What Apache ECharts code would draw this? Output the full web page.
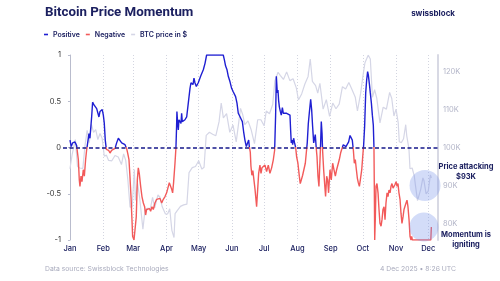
<!DOCTYPE html>
<html>
<head>
<meta charset="utf-8">
<script src="https://cdn.jsdelivr.net/npm/echarts@6/dist/echarts.min.js"></script>
<style>
html,body{margin:0;padding:0;background:#fff;}
#chart{width:500px;height:281px;}
</style>
</head>
<body>
<div id="chart"></div>
<script>
// ---- Data (day = days since 1 Jan 2025) ----
const monthDays = [0,31,59,90,120,151,181,212,243,273,304,334];
const monthLabels = ['Jan','Feb','Mar','Apr','May','Jun','Jul','Aug','Sep','Oct','Nov','Dec'];
const priceTicks = [80,90,100,110,120];

const momDay = [0,1.2,2.5,4.7,6.2,7.8,8.7,9.3,10.3,11.2,12.4,13.4,14.6,15.5,16.5,17.7,18.6,20.2,21.1,22.4,23.6,24.9,25.8,27.0,28.0,28.9,30.1,31.1,32.0,32.9,33.9,34.8,36.0,37.3,38.8,40.4,42.0,43.5,45.1,46.6,48.2,49.7,51.3,52.8,53.8,55.0,55.9,56.9,57.8,58.4,59.7,60.9,61.8,62.8,63.7,64.6,65.9,67.1,68.4,69.6,70.5,71.5,72.7,74.0,75.2,76.4,77.7,79.2,80.8,82.3,83.9,85.5,87.0,88.6,90.1,91.7,92.6,93.8,94.8,95.7,96.6,97.9,98.8,99.4,99.7,100.4,101.0,101.6,102.5,103.5,104.1,104.7,106.0,107.2,108.8,110.3,111.9,112.8,113.7,114.7,115.6,116.5,117.8,118.7,119.6,120.9,121.8,122.7,124.3,125.9,127.4,142.9,143.9,145.1,146.4,147.6,149.2,150.7,152.3,153.2,154.4,155.7,156.9,158.2,159.4,160.7,161.9,163.1,164.4,165.6,166.6,167.2,168.1,168.7,169.6,170.5,171.5,172.5,174.0,175.0,175.9,177.1,178.1,179.0,180.2,181.8,183.3,184.9,186.4,188.0,189.6,190.8,191.7,192.4,193.3,193.9,194.5,195.2,196.1,197.0,198.0,198.9,199.8,200.7,202.0,202.9,203.8,205.1,205.7,206.3,207.0,207.6,208.5,209.4,210.4,211.3,212.5,213.8,214.7,215.7,216.9,218.1,219.4,220.3,221.2,222.2,223.1,224.4,225.3,226.2,227.2,227.8,228.7,229.6,230.3,231.2,232.1,233.1,233.7,234.3,235.0,235.5,236.5,237.4,238.3,239.3,240.2,241.1,242.4,243.6,244.9,246.1,247.4,248.6,249.8,251.1,252.3,253.6,254.8,256.1,257.3,258.5,259.8,261.1,262.0,263.2,264.2,265.1,266.0,267.0,267.9,268.8,269.8,270.7,272.0,272.9,273.8,274.7,275.7,276.6,277.5,278.2,279.1,280.0,281.0,281.9,282.8,283.4,283.7,284.1,284.7,285.3,286.2,287.2,288.1,289.0,290.0,290.9,291.8,292.8,293.7,294.6,295.6,296.5,297.4,298.4,299.3,300.2,301.2,302.1,303.0,304.0,304.9,305.8,306.7,307.7,308.6,309.5,310.5,311.4,312.3,313.3,314.2,315.1,316.1,317.0,317.9,318.6,319.2,336.4,336.9];
const momentum = [0.08,0.01,0.05,0.06,0.02,-0.13,-0.35,-0.42,-0.31,-0.37,-0.24,-0.31,-0.13,-0.03,0.05,0.15,0.10,0.33,0.49,0.46,0.46,0.42,0.41,0.33,0.39,0.37,0.41,0.35,0.26,0.08,-0.02,-0.04,-0.03,-0.06,-0.03,-0.04,-0.01,0.05,0.10,0.08,0.05,0.06,0.03,-0.01,-0.06,-0.13,-0.31,-0.53,-0.78,-0.96,-1.0,-0.98,-0.75,-0.35,-0.22,-0.28,-0.42,-0.53,-0.60,-0.64,-0.73,-0.67,-0.69,-0.66,-0.69,-0.64,-0.67,-0.60,-0.56,-0.54,-0.55,-0.60,-0.56,-0.53,-0.49,-0.42,-0.38,-0.40,-0.45,-0.49,-0.38,-0.17,0.0,0.23,0.39,0.26,0.19,0.30,0.28,0.26,0.37,0.28,0.28,0.30,0.33,0.48,0.64,0.70,0.71,0.68,0.75,0.70,0.66,0.68,0.70,0.71,0.77,0.79,0.84,0.91,1.0,1.0,0.95,0.88,0.84,0.77,0.71,0.64,0.60,0.62,0.55,0.48,0.37,0.34,0.35,0.28,0.17,0.08,0.01,0.02,0.08,0.01,-0.05,-0.20,-0.30,-0.25,-0.35,-0.45,-0.64,-0.45,-0.28,-0.19,-0.28,-0.22,-0.24,-0.19,-0.26,-0.19,-0.28,-0.22,-0.13,-0.03,0.34,0.77,0.59,0.62,0.51,0.44,0.39,0.35,0.43,0.37,0.35,0.37,0.37,0.39,0.37,0.35,0.19,0.05,0.08,0.03,0.10,0.05,0.0,-0.10,-0.17,-0.31,-0.39,-0.35,-0.30,-0.28,-0.17,-0.06,0.05,0.26,0.37,0.52,0.41,0.23,0.05,0.03,0.14,-0.01,-0.10,-0.31,-0.42,-0.13,0.05,0.28,0.15,-0.03,-0.24,-0.39,-0.53,-0.31,-0.35,-0.49,-0.24,-0.35,-0.17,-0.24,-0.31,-0.24,-0.24,-0.13,-0.06,-0.01,0.03,0.05,0.01,0.03,0.06,0.13,0.12,0.08,-0.03,-0.17,-0.13,-0.24,-0.33,-0.38,-0.42,-0.35,-0.24,-0.10,0.03,0.23,0.59,0.73,0.82,0.78,0.69,0.59,0.48,0.35,0.24,0.0,-0.39,-1.0,-0.75,-0.42,-0.39,-0.49,-0.67,-0.82,-0.85,-0.78,-0.67,-0.64,-0.78,-0.60,-0.49,-0.53,-0.46,-0.49,-0.42,-0.39,-0.44,-0.46,-0.40,-0.37,-0.42,-0.39,-0.49,-0.56,-0.71,-0.82,-0.75,-0.67,-0.67,-0.60,-0.57,-0.64,-0.78,-0.96,-1.0,-0.96,-1.0,-1.0,-0.86];

const btcDates = ['01-01','01-03','01-06','01-08','01-10','01-13','01-15','01-17','01-19','01-21','01-23','01-25','01-27','01-29','01-31','02-02','02-04','02-06','02-09','02-12','02-15','02-18','02-20','02-22','02-24','02-26','02-28','03-02','03-03','03-05','03-07','03-10','03-12','03-14','03-17','03-19','03-21','03-24','03-26','03-28','03-31','04-02','04-04','04-06','04-08','04-09','04-11','04-14','04-17','04-20','04-22','04-25','04-28','05-01','05-04','05-06','05-08','05-11','05-14','05-17','05-20','05-22','05-24','05-27','05-30','06-02','06-05','06-09','06-11','06-13','06-16','06-19','06-22','06-25','06-28','07-01','07-03','07-06','07-09','07-11','07-14','07-16','07-19','07-22','07-25','07-28','07-31','08-02','08-05','08-08','08-11','08-13','08-15','08-18','08-20','08-22','08-25','08-28','08-31','09-03','09-06','09-09','09-12','09-15','09-18','09-21','09-24','09-26','09-29','10-01','10-03','10-06','10-08','10-10','10-12','10-14','10-17','10-20','10-23','10-26','10-28','10-30','11-01','11-03','11-04','11-06','11-08','11-10','11-11','11-13','11-14','11-16','11-18','11-19','11-21','11-22','11-24','11-26','11-27','11-29','12-01','12-03','12-04'];
const btcPrice = [94.4,98.1,102.1,95.0,94.6,94.5,100.5,104.5,101.3,106.1,104.0,104.7,102.1,103.7,102.4,97.7,98.0,96.6,96.5,97.9,97.5,95.5,98.3,96.6,91.4,84.3,84.4,94.2,86.1,90.6,86.7,78.5,83.7,84.0,84.0,86.9,84.1,87.5,86.9,84.4,82.5,82.5,83.9,78.2,76.3,82.6,83.4,84.5,84.9,85.1,93.4,94.7,95.0,96.5,94.3,94.8,103.2,104.0,103.5,103.1,106.8,111.7,107.8,108.9,104.0,105.9,101.5,110.3,108.7,106.0,107.0,104.6,101.0,107.3,107.3,105.7,109.6,108.9,111.3,117.5,119.8,119.0,117.9,119.9,117.6,118.1,115.7,112.5,114.1,116.7,118.7,123.3,117.4,116.3,114.3,116.9,110.1,112.6,108.2,111.7,110.2,111.4,116.0,115.4,117.1,115.2,113.2,109.6,114.3,118.6,122.3,124.3,123.3,113.2,115.2,113.0,106.5,110.6,110.1,114.5,112.9,108.3,110.1,106.5,101.5,101.3,102.3,106.0,103.0,99.7,94.4,94.6,92.5,90.2,86.0,85.5,89.0,92.0,91.3,87.8,88.5,92.8,92.0];

// ---- Build ----
function dayOf(md){
  const [m,d] = md.split('-').map(Number);
  return (Date.UTC(2025,m-1,d) - Date.UTC(2025,0,1)) / 86400000;
}
const momData = momDay.map((d,i)=>[d, momentum[i]]);
const btcData = btcDates.map((md,i)=>[dayOf(md), btcPrice[i]]);

const NAVY = '#1c2060';
const BLUE = '#1f1fd2';
const RED = '#f25a5a';
const GRAY = '#d5d6e6';

const chart = echarts.init(document.getElementById('chart'), null, {renderer:'canvas'});
const option = {
  animation:false,
  backgroundColor:'#fff',
  textStyle:{fontFamily:'Inter'},
  title:{
    text:'Bitcoin Price Momentum', left:45, top:6, padding:0,
    textStyle:{fontFamily:'Roboto', fontSize:13.3, fontWeight:'bold', color:NAVY}
  },
  legend:{
    left:44, top:31, padding:0, icon:'rect', itemWidth:4, itemHeight:1.6, itemGap:6,
    textStyle:{fontFamily:'Inter', fontSize:7, fontWeight:600, color:NAVY},
    data:[
      {name:'Positive', itemStyle:{color:BLUE}},
      {name:'Negative', itemStyle:{color:RED}},
      {name:'BTC price in $', itemStyle:{color:GRAY}}
    ]
  },
  grid:{left:63, right:62, top:55, bottom:41, containLabel:false},
  xAxis:{
    type:'value', min:-6.5, max:343.1,
    axisLine:{show:false},
    axisTick:{show:false, customValues:monthDays},
    splitLine:{show:true, lineStyle:{type:[1,2], color:'#d3d5e0', width:1}},
    axisLabel:{customValues:monthDays, formatter:v=>monthLabels[monthDays.indexOf(v)],
      color:NAVY, fontSize:7.5, fontWeight:500, margin:5, fontFamily:'Inter'}
  },
  yAxis:[
    {type:'value', min:-1, max:1, interval:0.5, position:'left',
      axisLine:{show:true, lineStyle:{color:'#b9bccd', width:1}},
      axisTick:{show:true, length:2, lineStyle:{color:'#b9bccd'}},
      axisLabel:{color:'#333', fontSize:7.5, margin:2, fontFamily:'Inter'},
      splitLine:{show:false}},
    {type:'value', min:75.66, max:124.34, position:'right',
      axisLine:{show:true, lineStyle:{color:'#d8d9e4', width:2}},
      axisTick:{show:false},
      axisLabel:{customValues:priceTicks, formatter:v=>v+'K', color:'#b3b5c8', fontSize:7.5, margin:5, fontFamily:'Inter'},
      splitLine:{show:false}}
  ],
  series:[
    {name:'BTC price in $', type:'line', yAxisIndex:1, data:btcData, showSymbol:false, z:1,
      lineStyle:{color:GRAY, width:1.2}, itemStyle:{color:GRAY}},
    {name:'Positive', type:'line', yAxisIndex:0, data:momData, showSymbol:false, z:3,
      lineStyle:{width:1.4, color:BLUE}, itemStyle:{color:BLUE},
      markLine:{silent:true, symbol:'none', label:{show:false},
        lineStyle:{color:'#16188a', type:[4,2.5], width:1.6},
        data:[{yAxis:0}]}},
    {name:'Negative', type:'line', yAxisIndex:0, data:[], showSymbol:false,
      lineStyle:{color:RED, width:1.4}, itemStyle:{color:RED}}
  ]
};
chart.setOption(option);

// colour the momentum line blue above zero and red below, split exactly at the zero level
const yTop = chart.convertToPixel({yAxisIndex:0}, 1);
const yBot = chart.convertToPixel({yAxisIndex:0}, -1);
const yZero = chart.convertToPixel({yAxisIndex:0}, 0);
const f = (yZero - yTop) / (yBot - yTop);
const c1 = chart.convertToPixel({xAxisIndex:0, yAxisIndex:1}, [331, 90.0]);
const c2 = chart.convertToPixel({xAxisIndex:0, yAxisIndex:0}, [330, -0.86]);
chart.setOption({
  series:[{}, {lineStyle:{color:new echarts.graphic.LinearGradient(0, yTop, 0, yBot, [
    {offset:0, color:BLUE},{offset:f, color:BLUE},{offset:f, color:RED},{offset:1, color:RED}], true)}}, {}],
  graphic:[
    {type:'circle', shape:{cx:c1[0], cy:c1[1], r:15.5}, style:{fill:'rgba(120,150,235,0.33)'}, z:10},
    {type:'circle', shape:{cx:c2[0], cy:c2[1], r:14.5}, style:{fill:'rgba(120,150,235,0.33)'}, z:10},
    {type:'text', x:466, y:162, z:11, style:{text:'Price attacking\n$93K', align:'center', fill:NAVY,
      font:'bold 7.5px Inter', lineHeight:9.5}},
    {type:'text', x:466, y:230, z:11, style:{text:'Momentum is\nigniting', align:'center', fill:NAVY,
      font:'bold 7.5px Inter', lineHeight:9.5}},
    {type:'text', x:455, y:10, z:11, style:{text:'swissblock', align:'right', fill:NAVY,
      font:'bold 8px Inter'}},
    {type:'text', x:45, y:265, z:11, style:{text:'Data source: Swissblock Technologies', fill:'#a9abbd',
      font:'6.8px Inter'}},
    {type:'text', x:456, y:265, z:11, style:{text:'4 Dec 2025 \u2022 8:26 UTC', align:'right', fill:'#a9abbd',
      font:'6.8px Inter'}}
  ]
});
</script>
</body>
</html>
